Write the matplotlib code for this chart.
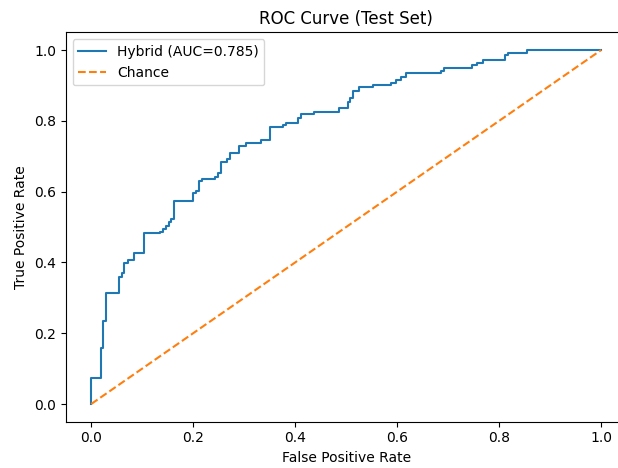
import matplotlib
matplotlib.use("Agg")
import matplotlib.pyplot as plt

# ROC curve vertices (step corners)
fpr = [0.0, 0.0, 0.019, 0.019, 0.024, 0.024, 0.029, 0.029, 0.029, 0.054, 0.054,
       0.060, 0.060, 0.065, 0.065, 0.072, 0.072, 0.084, 0.084, 0.103, 0.103,
       0.134, 0.134, 0.140, 0.140, 0.146, 0.146, 0.152, 0.152, 0.157, 0.157,
       0.163, 0.163, 0.200, 0.200, 0.206, 0.206, 0.212, 0.212, 0.217, 0.217,
       0.242, 0.242, 0.248, 0.248, 0.254, 0.254, 0.266, 0.266, 0.272, 0.272,
       0.290, 0.290, 0.303, 0.303, 0.333, 0.333, 0.350, 0.350, 0.376, 0.376,
       0.382, 0.382, 0.405, 0.405, 0.411, 0.411, 0.436, 0.436, 0.485, 0.485,
       0.503, 0.503, 0.508, 0.508, 0.514, 0.514, 0.526, 0.526, 0.552, 0.552,
       0.588, 0.588, 0.598, 0.598, 0.607, 0.607, 0.618, 0.618, 0.686, 0.686,
       0.691, 0.691, 0.746, 0.746, 0.756, 0.756, 0.769, 0.769, 0.812, 0.812,
       0.818, 0.818, 0.854, 0.854, 1.0]
tpr = [0.0, 0.073, 0.073, 0.157, 0.157, 0.235, 0.235, 0.251, 0.314, 0.314, 0.360,
       0.360, 0.369, 0.369, 0.397, 0.397, 0.407, 0.407, 0.427, 0.427, 0.482,
       0.482, 0.487, 0.487, 0.494, 0.494, 0.503, 0.503, 0.515, 0.515, 0.524,
       0.524, 0.574, 0.574, 0.595, 0.595, 0.603, 0.603, 0.630, 0.630, 0.637,
       0.637, 0.642, 0.642, 0.652, 0.652, 0.684, 0.684, 0.691, 0.691, 0.710,
       0.710, 0.729, 0.729, 0.738, 0.738, 0.746, 0.746, 0.783, 0.783, 0.789,
       0.789, 0.795, 0.795, 0.807, 0.807, 0.819, 0.819, 0.826, 0.826, 0.835,
       0.835, 0.854, 0.854, 0.864, 0.864, 0.885, 0.885, 0.895, 0.895, 0.901,
       0.901, 0.908, 0.908, 0.915, 0.915, 0.923, 0.923, 0.934, 0.934, 0.941,
       0.941, 0.950, 0.950, 0.958, 0.958, 0.962, 0.962, 0.973, 0.973, 0.986,
       0.986, 0.992, 0.992, 1.0, 1.0]
auc = 0.785
chance = [0, 1]

fig = plt.figure(figsize=(6.18, 4.68), dpi=100)
# axes run past the right edge, the reference is cropped there
ax = fig.add_axes([65.7 / 618, 46.3 / 468, 561 / 618, 389.4 / 468])

ax.plot(fpr, tpr, label=f"Hybrid (AUC={auc:.3f})")
ax.plot(chance, chance, linestyle="--", label="Chance")

ax.set_xlabel("False Positive Rate")
ax.set_ylabel("True Positive Rate")
ax.set_title("ROC Curve (Test Set)")
ax.legend(loc="upper left")

fig.savefig("out.png", dpi=100)
